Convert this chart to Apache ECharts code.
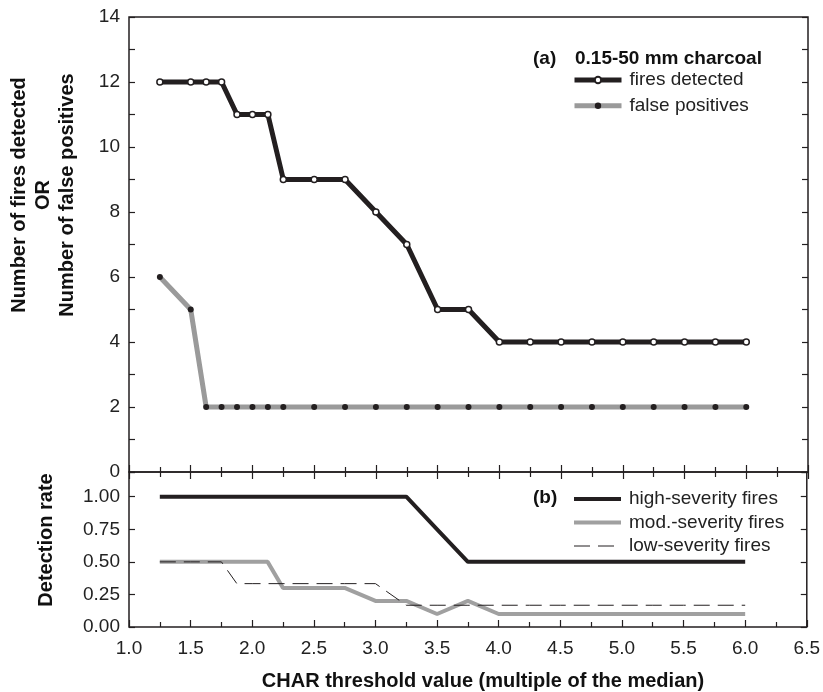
<!DOCTYPE html>
<html>
<head>
<meta charset="utf-8">
<script src="https://cdn.jsdelivr.net/npm/echarts@6/dist/echarts.min.js"></script>
<style>
  html, body { margin: 0; padding: 0; background: #fff; }
  #chart { width: 823px; height: 692px; }
</style>
</head>
<body>
<div id="chart"></div>
<script>
// CHAR threshold values (x) shared by every series
var thresholds = [1.25, 1.5, 1.625, 1.75, 1.875, 2.0, 2.125, 2.25, 2.5, 2.75, 3.0, 3.25, 3.5, 3.75, 4.0, 4.25, 4.5, 4.75, 5.0, 5.25, 5.5, 5.75, 6.0];

// panel (a)
var firesDetected = [12, 12, 12, 12, 11, 11, 11, 9, 9, 9, 8, 7, 5, 5, 4, 4, 4, 4, 4, 4, 4, 4, 4];
var falsePositives = [6, 5, 2, 2, 2, 2, 2, 2, 2, 2, 2, 2, 2, 2, 2, 2, 2, 2, 2, 2, 2, 2, 2];

// panel (b)
var highSeverity = [1, 1, 1, 1, 1, 1, 1, 1, 1, 1, 1, 1, 0.75, 0.5, 0.5, 0.5, 0.5, 0.5, 0.5, 0.5, 0.5, 0.5, 0.5];
var modSeverity = [0.5, 0.5, 0.5, 0.5, 0.5, 0.5, 0.5, 0.3, 0.3, 0.3, 0.2, 0.2, 0.1, 0.2, 0.1, 0.1, 0.1, 0.1, 0.1, 0.1, 0.1, 0.1, 0.1];
var lowSeverity = [0.5, 0.5, 0.5, 0.5, 0.333, 0.333, 0.333, 0.333, 0.333, 0.333, 0.333, 0.167, 0.167, 0.167, 0.167, 0.167, 0.167, 0.167, 0.167, 0.167, 0.167, 0.167, 0.167];

var FONT = '"Liberation Sans", Arial, Helvetica, sans-serif';
var INK = '#231f20';
var GREY = '#9a9a9a';
var LIGHT = '#a0a0a0';
var DASH = [16, 8];

function pairs(ys) {
  return thresholds.map(function (x, i) { return [x, ys[i]]; });
}

function xAxisOf(grid, pos, labels) {
  return {
    type: 'value', gridIndex: grid, position: pos, min: 1, max: 6.5, interval: 0.5,
    axisLine: { show: false },
    axisTick: { show: true, inside: true, length: 7, lineStyle: { color: INK, width: 1.2 } },
    minorTick: { show: true, splitNumber: 2, length: 5, lineStyle: { color: INK, width: 1.2 } },
    splitLine: { show: false },
    axisLabel: labels ? {
      show: true, margin: 12, color: '#222', fontFamily: FONT, fontSize: 19,
      formatter: function (v) { return v.toFixed(1); }
    } : { show: false }
  };
}

function yAxisOf(grid, pos, max, step, labelFn) {
  return {
    type: 'value', gridIndex: grid, position: pos, min: 0, max: max, interval: step,
    axisLine: { show: false },
    axisTick: { show: true, inside: true, length: 6, lineStyle: { color: INK, width: 1.2 } },
    splitLine: { show: false },
    axisLabel: labelFn ? {
      show: true, margin: 9, color: '#222', fontFamily: FONT, fontSize: 19, formatter: labelFn
    } : { show: false }
  };
}

var legendText = { fontFamily: FONT, fontSize: 19, lineHeight: 20, color: '#222', padding: [0, 0, 0, 3] };

var option = {
  backgroundColor: '#fff',
  animation: false,
  grid: [
    { left: 129, right: 15, top: 17, height: 455, show: true, borderColor: INK, borderWidth: 1.5 },
    { left: 129, right: 15, top: 472, height: 155, show: true, borderColor: INK, borderWidth: 1.5 }
  ],
  xAxis: [
    xAxisOf(0, 'bottom', false),
    xAxisOf(0, 'top', false),
    xAxisOf(1, 'bottom', true)
  ],
  yAxis: [
    yAxisOf(0, 'left', 14, 1, function (v) { return v % 2 === 0 ? String(v) : ''; }),
    yAxisOf(0, 'right', 14, 1, null),
    yAxisOf(1, 'left', 1.19, 0.25, function (v) { return v > 1.01 ? '' : v.toFixed(2); }),
    yAxisOf(1, 'right', 1.19, 0.25, null)
  ],
  legend: [
    {
      data: [
        { name: 'fires detected', lineStyle: { color: INK, width: 5 } },
        { name: 'false positives', lineStyle: { color: GREY, width: 5 } }
      ],
      orient: 'vertical', left: 572, top: 70, padding: 0,
      itemWidth: 47, itemHeight: 8, itemGap: 5.7, textStyle: legendText
    },
    {
      data: [
        { name: 'high-severity fires', lineStyle: { color: INK, width: 4 }, itemStyle: { opacity: 0 } },
        { name: 'mod.-severity fires', lineStyle: { color: LIGHT, width: 4 }, itemStyle: { opacity: 0 } },
        { name: 'low-severity fires', lineStyle: { color: INK, width: 1, type: DASH }, itemStyle: { opacity: 0 } }
      ],
      orient: 'vertical', left: 572, top: 489, padding: 0,
      itemWidth: 47, itemHeight: 8, itemGap: 3.5, textStyle: legendText
    }
  ],
  series: [
    {
      name: 'fires detected', type: 'line', xAxisIndex: 0, yAxisIndex: 0,
      data: pairs(firesDetected),
      lineStyle: { color: INK, width: 5 },
      symbol: 'circle', symbolSize: 6,
      itemStyle: { color: '#fff', borderColor: INK, borderWidth: 1.5 },
      z: 3
    },
    {
      name: 'false positives', type: 'line', xAxisIndex: 0, yAxisIndex: 0,
      data: pairs(falsePositives),
      lineStyle: { color: GREY, width: 5 },
      symbol: 'circle', symbolSize: 6,
      itemStyle: { color: INK, borderColor: INK, borderWidth: 0 },
      z: 2
    },
    {
      name: 'high-severity fires', type: 'line', xAxisIndex: 2, yAxisIndex: 2,
      data: pairs(highSeverity), showSymbol: false, symbol: 'none',
      itemStyle: { color: INK },
      lineStyle: { color: INK, width: 4 }
    },
    {
      name: 'mod.-severity fires', type: 'line', xAxisIndex: 2, yAxisIndex: 2,
      data: pairs(modSeverity), showSymbol: false, symbol: 'none',
      itemStyle: { color: LIGHT },
      lineStyle: { color: LIGHT, width: 4 }
    },
    {
      name: 'low-severity fires', type: 'line', xAxisIndex: 2, yAxisIndex: 2,
      data: pairs(lowSeverity), showSymbol: false, symbol: 'none',
      itemStyle: { color: INK },
      lineStyle: { color: INK, width: 1, type: DASH }
    }
  ],
  graphic: [
    {
      type: 'text', x: 43, y: 195, rotation: Math.PI / 2,
      style: {
        text: 'Number of fires detected\nOR\nNumber of false positives',
        fontFamily: FONT, fontSize: 20, fontWeight: 'bold', lineHeight: 24,
        align: 'center', verticalAlign: 'middle', fill: '#111'
      }
    },
    {
      type: 'text', x: 46, y: 540, rotation: Math.PI / 2,
      style: {
        text: 'Detection rate', fontFamily: FONT, fontSize: 20, fontWeight: 'bold',
        align: 'center', verticalAlign: 'middle', fill: '#111'
      }
    },
    {
      type: 'text', x: 483, y: 681,
      style: {
        text: 'CHAR threshold value (multiple of the median)', fontFamily: FONT, fontSize: 20,
        fontWeight: 'bold', align: 'center', verticalAlign: 'middle', fill: '#111'
      }
    },
    {
      type: 'text', x: 533, y: 59,
      style: { text: '(a)', fontFamily: FONT, fontSize: 19, fontWeight: 'bold', verticalAlign: 'middle', fill: '#111' }
    },
    {
      type: 'text', x: 575, y: 59,
      style: { text: '0.15-50 mm charcoal', fontFamily: FONT, fontSize: 19, fontWeight: 'bold', verticalAlign: 'middle', fill: '#111' }
    },
    {
      type: 'text', x: 533, y: 498,
      style: { text: '(b)', fontFamily: FONT, fontSize: 19, fontWeight: 'bold', verticalAlign: 'middle', fill: '#111' }
    }
  ]
};

var chart = echarts.init(document.getElementById('chart'));
chart.setOption(option);
</script>
</body>
</html>
